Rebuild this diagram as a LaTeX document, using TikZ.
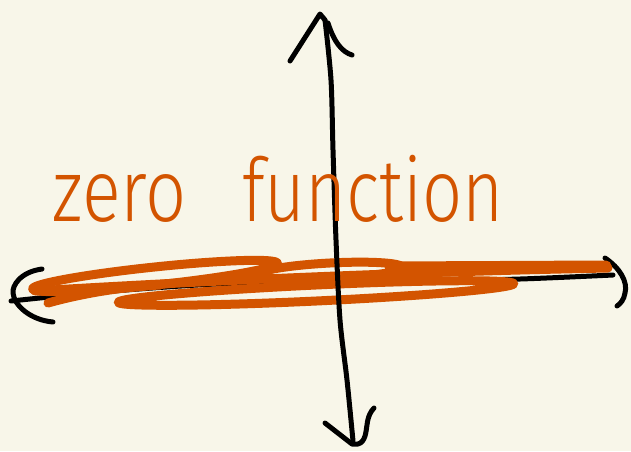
\documentclass[tikz,border=0pt]{standalone}
\usepackage{fontspec}
\setmainfont{Fira Sans}[UprightFont=* Light]
\definecolor{bg}{RGB}{248,246,233}
\definecolor{org}{RGB}{211,84,0}
\begin{document}
\begin{tikzpicture}[x=1pt,y=-1pt,
  ax/.style={line width=5pt, line cap=round, line join=round, black},
  scrib/.style={line width=9pt, line cap=round, line join=round, org},
  lbl/.style={inner sep=0pt, anchor=base west, text=org, font=\fontsize{88}{88}\selectfont}]
\fill[bg] (0,0) rectangle (631,451);
\useasboundingbox (0,0) rectangle (631,451);
% horizontal axis
\draw[ax] plot[smooth] coordinates {(11,301) (113,291) (240,283) (420,281) (520,279) (613,275)};
\draw[ax] (42,269) .. controls (20,272) and (12,286) .. (13,293) .. controls (14,305) and (30,320) .. (53,322);
\draw[ax] (605,258) .. controls (620,268) and (628,282) .. (625,293) .. controls (624,300) and (620,304) .. (617,306);
% orange scribble
\draw[scrib, rotate around={6:(155,276)}] (155,276) ellipse [x radius=123, y radius=9];
\draw[scrib, rotate around={3:(330,271)}] (330,271) ellipse [x radius=72, y radius=8];
\draw[scrib, rotate around={2.7:(316,293)}] (316,293) ellipse [x radius=198, y radius=8];
\draw[scrib, line width=9pt] (35,291) .. controls (200,281) and (400,272) .. (608,268);
\draw[scrib] (48,303) .. controls (80,294) and (120,287) .. (160,285);
\draw[scrib, line width=11pt] (390,267) -- (606,266);
% vertical axis
\draw[ax] plot[smooth] coordinates {(325,20) (331,80) (333,150) (336,240) (340,320) (347,380) (353,441)};
\draw[ax] (290,61) -- (320,14) -- (325,20);
\draw[ax] (328,23) .. controls (334,42) and (342,52) .. (352,55);
\draw[ax] (325,423) -- (352,444) -- (358,444) .. controls (366,442) and (366,430) .. (367,425) .. controls (368,416) and (371,411) .. (374,408);
% label
\node[lbl] (zero) at (52,221) {\scalebox{0.82}[1]{zero}};
\node[lbl] (func) at (242,221) {\scalebox{0.8}[1]{function}};
\end{tikzpicture}
\end{document}
